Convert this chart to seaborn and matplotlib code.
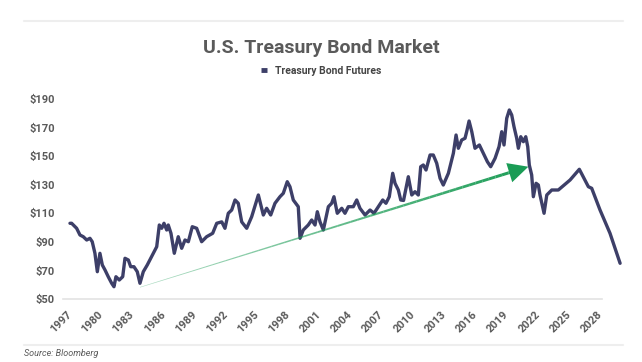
import numpy as np
import matplotlib
matplotlib.use("Agg")
import matplotlib.pyplot as plt
import seaborn as sns
from matplotlib.collections import LineCollection
from matplotlib.lines import Line2D

# Treasury bond futures price (year, price)
years = [1977.00, 1977.16, 1977.64, 1977.96, 1978.28, 1978.61, 1978.92, 1979.14,
         1979.40, 1979.63, 1979.88, 1980.11, 1980.37, 1980.68, 1981.01, 1981.23,
         1981.42, 1981.74, 1982.07, 1982.29, 1982.61, 1982.84, 1983.15, 1983.47,
         1983.73, 1984.05, 1984.43, 1984.76, 1985.08, 1985.34, 1985.59, 1985.82,
         1986.04, 1986.30, 1986.45, 1986.71, 1987.03, 1987.41, 1987.74, 1988.06,
         1988.38, 1988.76, 1989.18, 1989.66, 1990.14, 1990.72, 1991.11, 1991.59,
         1991.90, 1992.22, 1992.55, 1992.87, 1993.18, 1993.51, 1993.99, 1994.47,
         1995.11, 1995.59, 1995.91, 1996.30, 1996.71, 1997.19, 1997.51, 1997.89,
         1998.15, 1998.47, 1998.95, 1999.12, 1999.43, 1999.91, 2000.24, 2000.56,
         2000.78, 2001.04, 2001.36, 2001.84, 2002.16, 2002.38, 2002.70, 2003.13,
         2003.44, 2003.76, 2004.24, 2004.57, 2004.88, 2005.37, 2005.85, 2006.23,
         2006.64, 2007.07, 2007.38, 2007.70, 2008.03, 2008.25, 2008.57, 2008.80,
         2009.07, 2009.53, 2009.86, 2010.17, 2010.49, 2010.72, 2010.97, 2011.23,
         2011.62, 2011.93, 2012.26, 2012.58, 2012.89, 2013.38, 2013.86, 2014.12,
         2014.34, 2014.66, 2014.98, 2015.14, 2015.37, 2015.63, 2015.94, 2016.36,
         2016.74, 2017.13, 2017.45, 2017.87, 2018.25, 2018.51, 2018.73, 2018.99,
         2019.24, 2019.47, 2019.69, 2019.95, 2020.11, 2020.34, 2020.59, 2020.82,
         2021.01, 2021.16, 2021.39, 2021.55, 2021.81, 2022.03, 2022.19, 2022.58,
         2022.84, 2023.32, 2023.95, 2025.08, 2025.97, 2026.84, 2027.16, 2027.96,
         2028.92, 2029.89]
prices = [103, 103, 99.5, 94.8, 93.6, 91.3, 92.5, 90.1,
          82, 69.1, 82, 73.8, 70.3, 65.6, 61, 58.6,
          65.6, 63.3, 65.6, 78.5, 77.3, 72.6, 72.6, 69.1,
          61, 69.1, 73.8, 78.5, 83.1, 86.6, 101.8, 99.5,
          103, 98.3, 101.8, 96, 82, 93.6, 85.5, 91.3,
          90.1, 100.6, 99.5, 90.1, 93.6, 96, 103, 104,
          99.5, 110, 112.3, 119.3, 117, 104, 99.5, 107.6,
          122.8, 108.8, 113.5, 108.8, 117, 121.6, 124, 132.1,
          128.6, 119.3, 114.6, 92.5, 98.3, 101.8, 105.3, 101.8,
          111.1, 104, 98.3, 114.6, 117, 121.6, 110, 113.5,
          110, 114.6, 114.6, 119.3, 113.5, 108.8, 112.3, 110,
          114.6, 119.3, 117, 121.6, 138, 131, 126.3, 119.3,
          119, 135.6, 122.8, 125.1, 122.8, 142.6, 143.8, 140.3,
          150.8, 150.8, 145, 134.5, 129.8, 138, 152, 164.8,
          155.5, 161.3, 162.5, 167.1, 174.6, 167.1, 155.5, 157.8,
          152, 146.1, 142.6, 148.5, 156.6, 167.1, 157.8, 176.5,
          182.3, 178.8, 170.6, 162.5, 155.5, 163.6, 160.1, 163.6,
          156.6, 143.8, 136.8, 121.6, 131, 129.8, 122.8, 110,
          122.8, 126.3, 126.3, 133.3, 140.8, 128.6, 127.5, 112.3,
          96, 75]

# trend arrow: start and tip (year, price)
trend_x = [1983.73, 2021.07]
trend_y = [58.2, 142.6]

tick_years = list(range(1977, 2029, 3))
tick_labels = ["1997"] + [str(y) for y in tick_years[1:]]
y_ticks = [50, 70, 90, 110, 130, 150, 170, 190]

NAVY = "#3d3f68"
GREEN = "#1a9c55"
GREY = "#5a5a5a"

sns.set_theme(style="white")
plt.rcParams["font.family"] = ["Roboto", "DejaVu Sans"]

fig = plt.figure(figsize=(6.42, 3.62), dpi=100)
ax = fig.add_axes([63 / 642, 1 - 299 / 362, (602 - 63) / 642, (299 - 99) / 362])

sns.lineplot(x=years, y=prices, ax=ax, color=NAVY, linewidth=2.4, sort=False)
ax.lines[0].set_clip_on(False)
ax.lines[0].set_solid_joinstyle("round")

# tapered green arrow
t = np.linspace(0, 1, 60)
ax_x = trend_x[0] + (trend_x[1] - trend_x[0]) * t
ax_y = trend_y[0] + (trend_y[1] - trend_y[0]) * t
pts = np.column_stack([ax_x, ax_y]).reshape(-1, 1, 2)
segs = np.concatenate([pts[:-1], pts[1:]], axis=1)
keep = t[:-1] < 0.96
widths = 0.4 + 1.9 * t[:-1][keep]
alphas = 0.35 + 0.65 * t[:-1][keep]
cols = [matplotlib.colors.to_rgba(GREEN, a) for a in alphas]
ax.add_collection(LineCollection(segs[keep], linewidths=widths, colors=cols,
                                 capstyle="butt", zorder=3))
hx = trend_x[0] + (trend_x[1] - trend_x[0]) * 0.955
hy = trend_y[0] + (trend_y[1] - trend_y[0]) * 0.955
ax.annotate("", xy=(trend_x[1], trend_y[1]), xytext=(hx, hy),
            arrowprops=dict(arrowstyle="-|>,head_length=0.9,head_width=0.45",
                            color=GREEN, lw=0, mutation_scale=16,
                            shrinkA=0, shrinkB=0), zorder=4)

ax.set_xlim(1976.33, 2028.15)
ax.set_ylim(50, 190)
ax.set_yticks(y_ticks)
ax.set_yticklabels([f"${v}" for v in y_ticks])
ax.set_xticks(tick_years)
ax.set_xticklabels(tick_labels, rotation=45, ha="right", va="center",
                   rotation_mode="anchor")
ax.tick_params(axis="x", length=0, pad=10, labelsize=8, labelcolor=GREY)
ax.tick_params(axis="y", length=0, pad=6, labelsize=8, labelcolor=GREY)
for lab in ax.get_xticklabels() + ax.get_yticklabels():
    lab.set_fontweight("bold")
ax.set_xlabel("")
ax.set_ylabel("")
for s in ["top", "right", "left"]:
    ax.spines[s].set_visible(False)
ax.spines["bottom"].set_color("#e3e3e3")
ax.spines["bottom"].set_linewidth(1.2)
ax.grid(False)

fig.text(0.5, 1 - 48 / 362, "U.S. Treasury Bond Market", ha="center", va="center",
         fontsize=14, fontweight="bold", color=GREY)
leg_handle = Line2D([], [], color=NAVY, lw=3.5, solid_capstyle="butt")
leg = fig.legend(handles=[leg_handle], labels=["Treasury Bond Futures"],
                 loc="center", bbox_to_anchor=(0.5, 1 - 71 / 362), frameon=False,
                 handlelength=0.6, handletextpad=0.7, fontsize=7.5)
for txt in leg.get_texts():
    txt.set_color("#444444")
    txt.set_fontweight("bold")

# separators and source
fig.add_artist(Line2D([24 / 642, 623 / 642], [1 - 21 / 362] * 2, color="#eeeeee", lw=1.5))
fig.add_artist(Line2D([24 / 642, 623 / 642], [1 - 345 / 362] * 2, color="#eeeeee", lw=1.5))
fig.text(24 / 642, 1 - 353 / 362, "Source: Bloomberg", ha="left", va="center",
         fontsize=6.5, style="italic", color=GREY)

fig.savefig("out.png", dpi=100)
